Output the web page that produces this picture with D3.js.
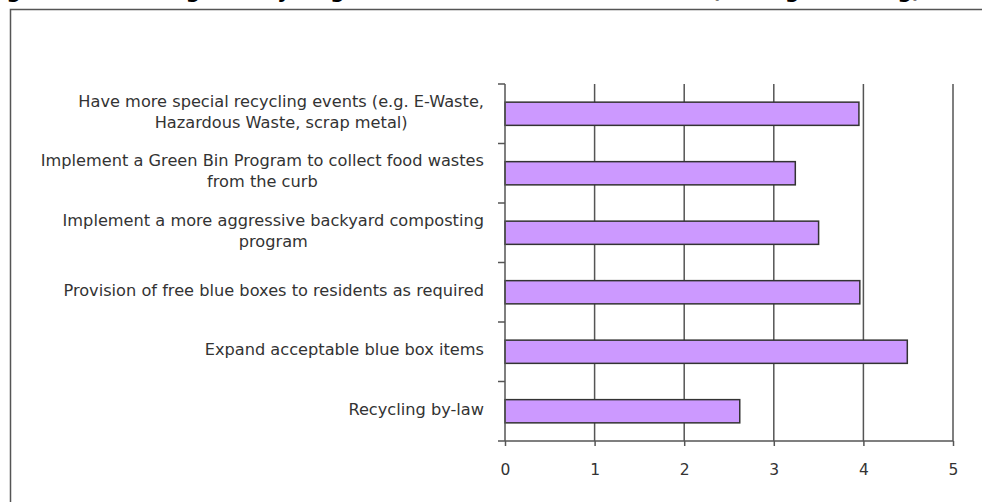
<!DOCTYPE html>
<html>
<head>
<meta charset="utf-8">
<script src="https://cdn.jsdelivr.net/npm/d3@7/dist/d3.min.js"></script>
<style>
  body { margin: 0; background: #fff; }
  svg { display: block; }
</style>
</head>
<body>
<div id="chart"></div>
<script>
// survey items, top to bottom
let categories = [
    ['Have more special recycling events (e.g. E-Waste,', 'Hazardous Waste, scrap metal)'],
    ['Implement a Green Bin Program to collect food wastes', 'from the curb'],
    ['Implement a more aggressive backyard composting', 'program'],
    ['Provision of free blue boxes to residents as required'],
    ['Expand acceptable blue box items'],
    ['Recycling by-law']
];
let values = [3.95, 3.24, 3.5, 3.96, 4.49, 2.62];
let xTicks = [0, 1, 2, 3, 4, 5];
let title = 'Figure 10: Ranking of Recycling and Waste Diversion Initiatives (Average Ranking)';

(function () {
    let width = 982, height = 502,
        margins = { left: 505, right: 29, top: 84, bottom: 61 },
        font = 'DejaVu Sans, Verdana, sans-serif';

    let svg = d3.select('#chart').append('svg')
        .attr('width', width).attr('height', height);

    // title, cut off by the top of the page
    svg.append('text')
        .attr('x', -14).attr('y', -2)
        .attr('font-family', font)
        .attr('font-weight', 'bold').attr('font-size', 20)
        .attr('fill', '#000')
        .text(title);

    // outer frame
    svg.append('rect')
        .attr('x', 10.5).attr('y', 9.5)
        .attr('width', 1000).attr('height', 600)
        .attr('fill', 'none').attr('stroke', '#555').attr('stroke-width', 1.5);

    let x = d3.scaleLinear().domain([0, 5])
        .range([margins.left, width - margins.right]);
    let y = d3.scaleBand().domain(d3.range(categories.length))
        .range([margins.top, height - margins.bottom])
        .paddingInner(0.61).paddingOuter(0.305);

    let bottom = height - margins.bottom;

    // vertical grid lines
    svg.append('g').selectAll('line').data(xTicks.slice(1)).enter().append('line')
        .attr('x1', d => x(d)).attr('x2', d => x(d))
        .attr('y1', margins.top).attr('y2', bottom)
        .attr('stroke', '#555').attr('stroke-width', 1.5);

    // bars
    svg.append('g').selectAll('rect').data(values).enter().append('rect')
        .attr('x', x(0))
        .attr('y', (d, i) => y(i))
        .attr('width', d => x(d) - x(0))
        .attr('height', y.bandwidth())
        .attr('fill', '#cc99ff')
        .attr('stroke', '#333').attr('stroke-width', 1.5);

    // x axis
    let xAxis = svg.append('g')
        .attr('transform', 'translate(0,' + bottom + ')')
        .call(d3.axisBottom(x).tickValues(xTicks).tickFormat(d3.format('d'))
            .tickSize(5).tickSizeOuter(0).tickPadding(18));
    xAxis.select('.domain').remove();
    xAxis.append('line')
        .attr('x1', x(0) - 7).attr('x2', x(5)).attr('y1', 0).attr('y2', 0)
        .attr('stroke', '#555').attr('stroke-width', 1.5);
    xAxis.selectAll('.tick line').attr('stroke', '#555').attr('stroke-width', 1.5);
    xAxis.selectAll('.tick text')
        .attr('font-family', font)
        .attr('font-size', 15.5).attr('fill', '#333');

    // y axis line and band ticks
    let yAxis = svg.append('g');
    yAxis.append('line')
        .attr('x1', x(0)).attr('x2', x(0))
        .attr('y1', margins.top).attr('y2', bottom)
        .attr('stroke', '#555').attr('stroke-width', 1.5);
    let step = y.step();
    yAxis.selectAll('line.tk').data(d3.range(categories.length)).enter().append('line')
        .attr('class', 'tk')
        .attr('x1', x(0) - 7).attr('x2', x(0))
        .attr('y1', (d, i) => y(i) - y.paddingOuter() * step)
        .attr('y2', (d, i) => y(i) - y.paddingOuter() * step)
        .attr('stroke', '#555').attr('stroke-width', 1.5);

    // category labels: block right-aligned, lines centred on each other
    let labelRight = 484, lineH = 21;
    categories.forEach(function (lines, i) {
        let g = svg.append('g');
        let cy = y(i) + y.bandwidth() / 2 - 2;
        let texts = lines.map(function (s, j) {
            return g.append('text')
                .attr('y', cy + (j - (lines.length - 1) / 2) * lineH)
                .attr('dy', '0.35em')
                .attr('font-family', font)
                .attr('font-size', 16.2).attr('fill', '#333')
                .attr('text-anchor', 'middle')
                .text(s);
        });
        let maxW = d3.max(texts, t => t.node().getComputedTextLength());
        texts.forEach(t => t.attr('x', labelRight - maxW / 2));
    });
})();
</script>
</body>
</html>
